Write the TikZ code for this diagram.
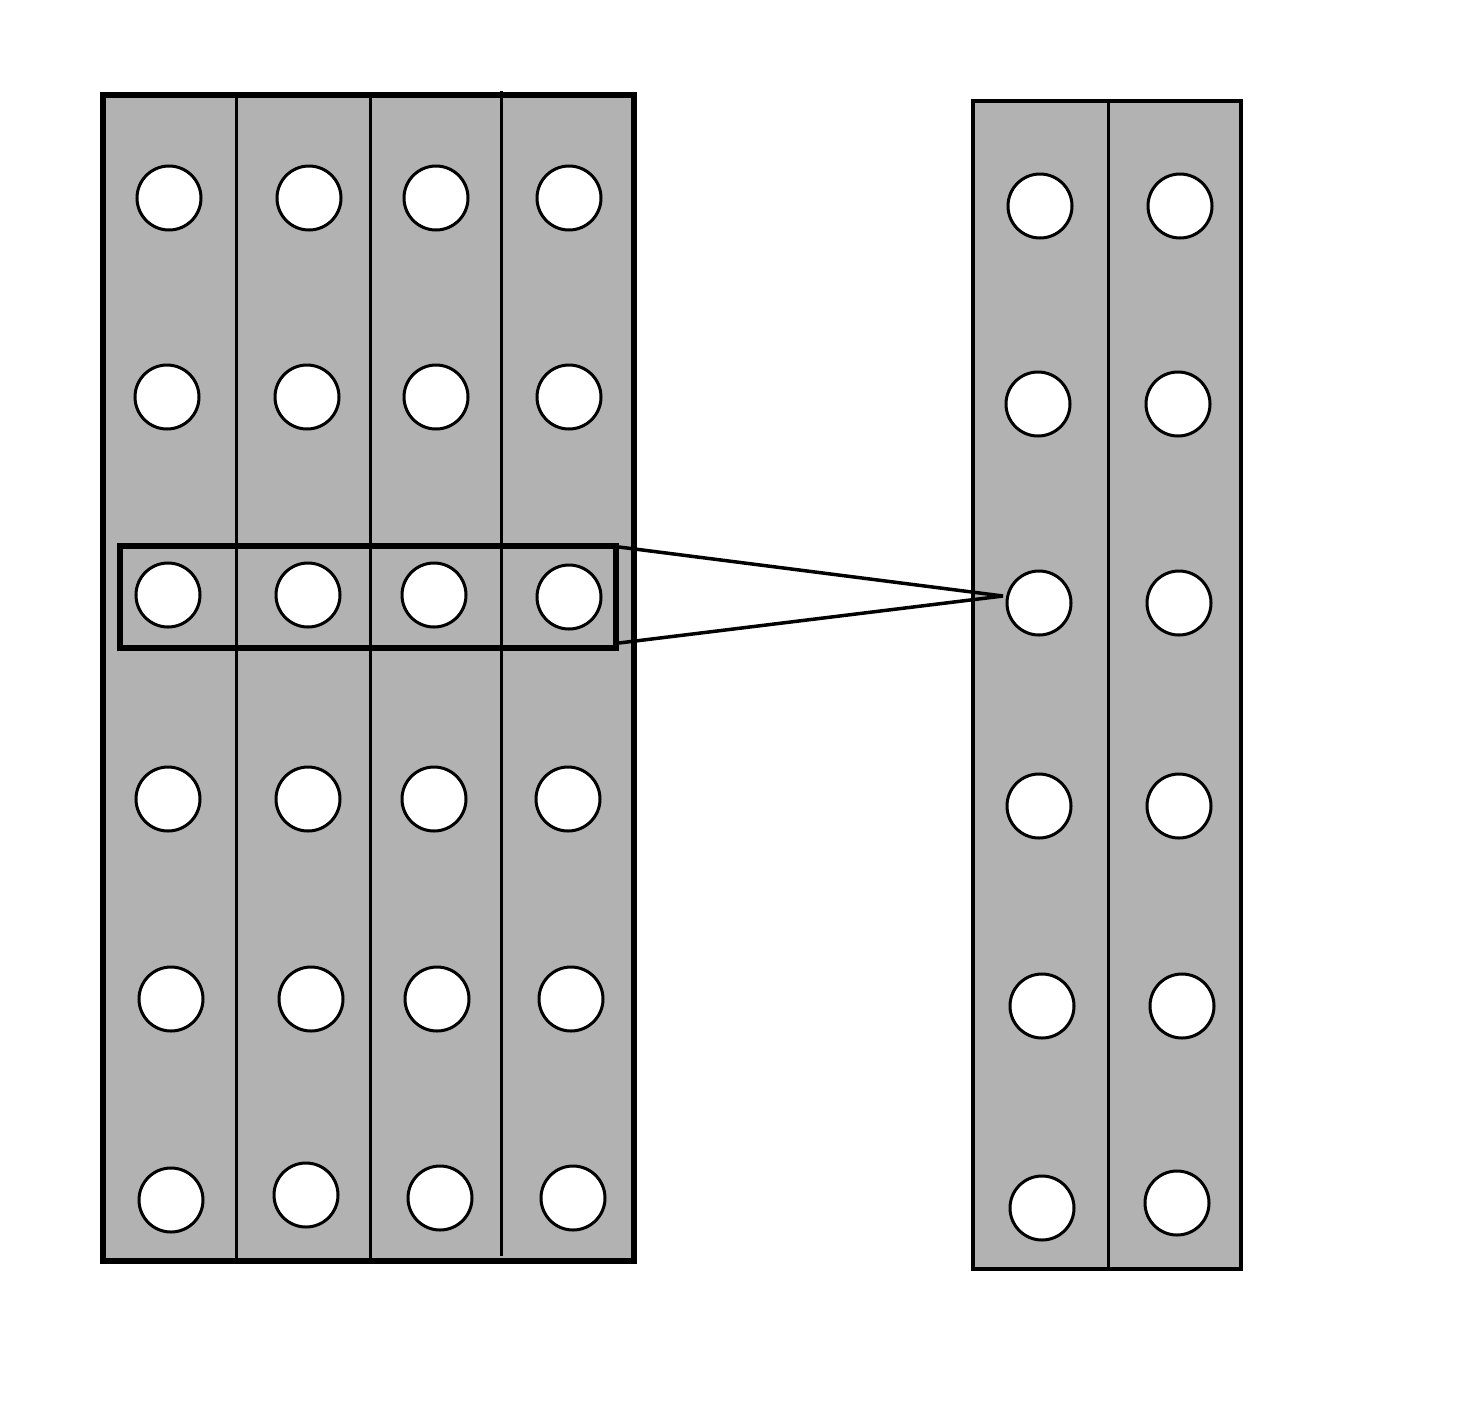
\documentclass[tikz,border=0pt]{standalone}
\begin{document}
\begin{tikzpicture}[x=1pt,y=-1pt,
  panel/.style={fill=black!30,draw=black},
  divider/.style={draw=black,line width=3pt},
  hole/.style={circle,draw=black,fill=white,line width=3pt,minimum size=64pt,inner sep=0pt},
  conn/.style={draw=black,line width=3.5pt}]
\useasboundingbox[fill=white] (0,0) rectangle (1467,1401);
% left panel
\path[panel,line width=6pt] (103,95) rectangle (634,1261);
\draw[divider] (236,95) -- (236,1261);
\draw[divider] (370,95) -- (370,1261);
\draw[divider] (501,91) -- (501,1256);
\path[draw=black,line width=6pt] (103,95) rectangle (634,1261);
% right panel
\path[panel,line width=4.5pt] (973,101) rectangle (1241,1269);
\draw[divider] (1108,101) -- (1108,1269);
% left circles
\foreach \n/\x/\y in {
  a1/169/198, a2/309/198, a3/436/198, a4/569/198,
  b1/167/397, b2/307/397, b3/436/397, b4/569/397,
  c1/168/595, c2/308/595, c3/434/595, c4/569/597,
  d1/168/799, d2/308/799, d3/434/799, d4/568/799,
  e1/171/999, e2/311/999, e3/437/999, e4/571/999,
  f1/171/1200, f2/306/1195, f3/440/1198, f4/573/1198}
  \node[hole] (L\n) at (\x,\y) {};
% right circles
\foreach \n/\x/\y in {
  a1/1040/206, a2/1180/206,
  b1/1038/404, b2/1178/404,
  c1/1039/603, c2/1179/603,
  d1/1039/806, d2/1179/806,
  e1/1042/1006, e2/1182/1006,
  f1/1042/1208, f2/1177/1203}
  \node[hole] (R\n) at (\x,\y) {};
% highlight box
\node[draw=black,line width=6pt,minimum width=496pt,minimum height=102pt,inner sep=0pt] (hl) at (368,597) {};
\coordinate (tip) at (1003,596);
\draw[conn] ([yshift=-4pt]hl.north east) -- (tip);
\draw[conn] ([yshift=8pt]hl.south east) -- (tip);
\end{tikzpicture}
\end{document}
